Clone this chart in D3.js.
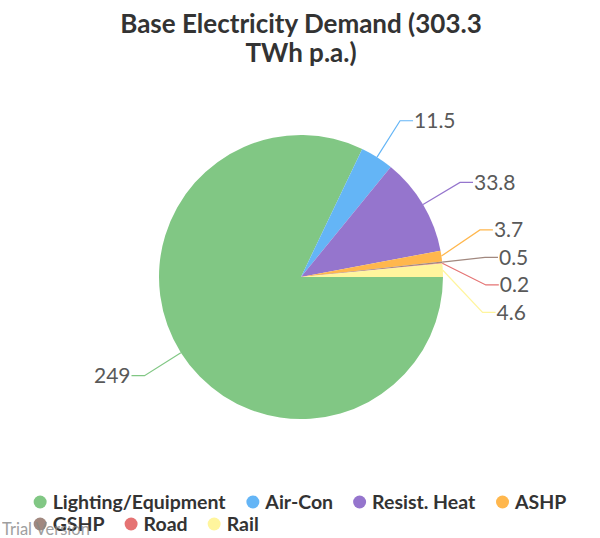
<!DOCTYPE html>
<html>
<head>
<meta charset="utf-8">
<script src="https://cdn.jsdelivr.net/npm/d3@7"></script>
<style>
  body{margin:0;background:#fff;}
  svg{display:block;font-family:Lato,"Open Sans",sans-serif;}
</style>
</head>
<body>
<div id="chart"></div>
<script>
/* ---------- DATA ---------- */
const CATS=["Lighting/Equipment","Air-Con","Resist. Heat","ASHP","GSHP","Road","Rail"];
const VALS=[249,11.5,33.8,3.7,0.5,0.2,4.6];
const COLS=["#81C784","#64B5F6","#9575CD","#FFB74D","#A1887F","#E57373","#FFF59D"];
const TITLE=["Base Electricity Demand (303.3","TWh p.a.)"];

/* ---------- LAYOUT ---------- */
const W=600, H=538;
const CX=301, CY=277, R=142, R_LBL=185, LBL_GAP=27.5, LBL_TAIL=13;

const svg=d3.select("#chart").append("svg").attr("width",W).attr("height",H);

/* title */
svg.append("g").selectAll("text").data(TITLE).enter().append("text")
   .attr("x",W/2+1).attr("y",(d,i)=>33+i*29)
   .attr("text-anchor","middle")
   .style("font-size","26px").style("font-weight","bold").style("fill","#333")
   .text(d=>d);

/* pie */
const data=CATS.map((c,i)=>({cat:c,val:VALS[i],col:COLS[i]}));
const pie=d3.pie().sort(null).value(d=>d.val)
            .startAngle(Math.PI/2).endAngle(Math.PI/2+2*Math.PI);
const arcs=pie(data);
const arc=d3.arc().innerRadius(0).outerRadius(R);

const g=svg.append("g").attr("transform",`translate(${CX},${CY})`);
g.selectAll("path").data(arcs).enter().append("path")
  .attr("d",arc).attr("fill",d=>d.data.col);

/* index labels: natural spot on outer ring, then pushed apart per side
   (lower label gives way a little more than the upper one) */
const lbl=arcs.map(a=>{
  const m=(a.startAngle+a.endAngle)/2;
  return {a, m, side:Math.sin(m)>=0?1:-1, y:-R_LBL*Math.cos(m)};
});
[1,-1].forEach(side=>{
  const s=lbl.filter(d=>d.side===side).sort((p,q)=>p.y-q.y);
  for(let it=0;it<400;it++){
    let moved=false;
    for(let i=1;i<s.length;i++){
      const ov=LBL_GAP-(s[i].y-s[i-1].y);
      if(ov>0.01){ s[i].y+=ov*0.62; s[i-1].y-=ov*0.38; moved=true; }
    }
    if(!moved) break;
  }
});
lbl.forEach(d=>{
  const yy=Math.max(-R_LBL,Math.min(R_LBL,d.y));
  d.x=d.side*Math.sqrt(R_LBL*R_LBL-yy*yy);
  d.x0=R*Math.sin(d.m); d.y0=-R*Math.cos(d.m);
});

g.selectAll("polyline").data(lbl).enter().append("polyline")
  .attr("points",d=>[[d.x0,d.y0],[d.x,d.y],[d.x+d.side*LBL_TAIL,d.y]].join(" "))
  .attr("fill","none").attr("stroke",d=>d.a.data.col).attr("stroke-width",1.2);

g.selectAll("text.lbl").data(lbl).enter().append("text").attr("class","lbl")
  .attr("x",d=>d.x+d.side*(LBL_TAIL+1)).attr("y",d=>d.y)
  .attr("dy","0.35em")
  .attr("text-anchor",d=>d.side>0?"start":"end")
  .style("font-size","21px").style("fill","#595959")
  .text(d=>d3.format("~g")(d.a.data.val));

/* legend: items flow left‑to‑right, block centred */
const LEG_MAXW=560, LEG_Y=502, LEG_ROW=22, MK_R=6.5, LEG_SP=20;
const leg=svg.append("g");
const items=leg.selectAll("g").data(data).enter().append("g");
items.append("circle").attr("r",MK_R).attr("cx",MK_R).attr("fill",d=>d.col);
items.append("text").attr("x",MK_R*2+6).attr("dy","0.35em")
  .style("font-size","19.5px").style("font-weight","bold").style("fill","#333")
  .text(d=>d.cat);
let rows=[[]], rw=[0];
items.each(function(d){
  const w=this.getBBox().width;
  let r=rows.length-1;
  const add=(rows[r].length?LEG_SP:0)+w;
  if(rw[r]+add>LEG_MAXW){ rows.push([]); rw.push(0); r++; }
  const x=rw[r]+(rows[r].length?LEG_SP:0);
  rows[r].push({node:this,x}); rw[r]=x+w;
});
const left=(W-d3.max(rw))/2;
rows.forEach((row,ri)=>row.forEach(it=>
  d3.select(it.node).attr("transform",`translate(${left+it.x},${LEG_Y+ri*LEG_ROW})`)));

/* watermark */
svg.append("text").attr("x",2).attr("y",535)
   .style("font-size","16.5px").style("fill","#888").style("opacity",0.8)
   .text("Trial Version");
</script>
</body>
</html>
